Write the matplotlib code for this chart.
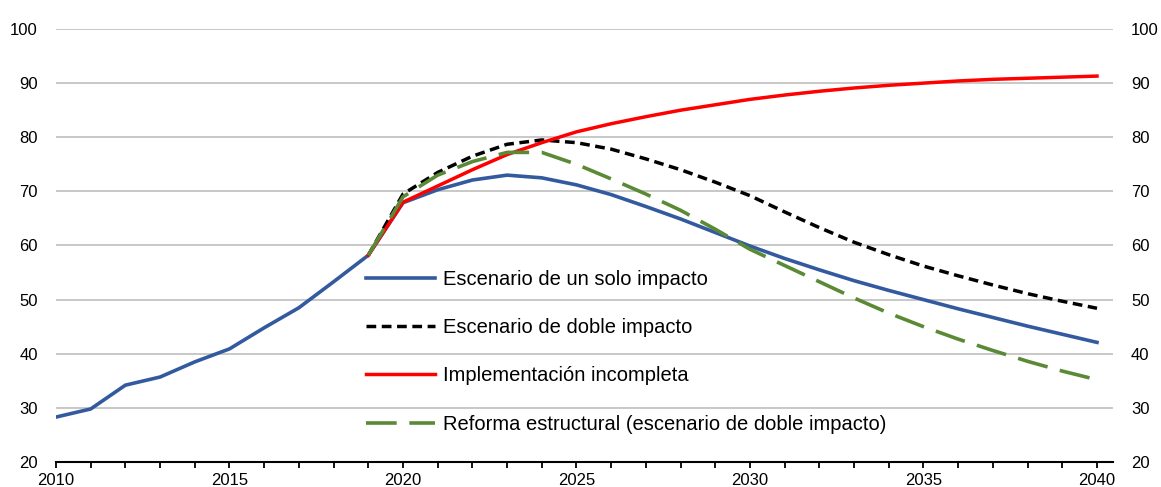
import numpy as np
import matplotlib
matplotlib.use('Agg')
import matplotlib.pyplot as plt
from matplotlib.ticker import MultipleLocator

plt.rcParams['font.family'] = ['Liberation Sans Narrow', 'Liberation Sans', 'DejaVu Sans']

# Data
years_hist = list(range(2010, 2041))
single_shock = [28.3, 29.8, 34.2, 35.7, 38.5, 40.9, 44.8, 48.5, 53.3, 58.2,
                67.9, 70.3, 72.1, 73.0, 72.5, 71.2, 69.4, 67.2, 64.9, 62.4,
                59.9, 57.6, 55.5, 53.5, 51.7, 50.0, 48.3, 46.7, 45.1, 43.6, 42.1]

years_proj = list(range(2019, 2041))
double_shock = [58.2, 69.5, 73.5, 76.5, 78.7, 79.5, 79.0, 77.8, 76.0, 74.0,
                71.7, 69.2, 66.2, 63.3, 60.6, 58.3, 56.2, 54.4, 52.7, 51.1,
                49.7, 48.4]
incomplete = [58.2, 68.0, 71.0, 74.0, 76.8, 79.0, 81.0, 82.5, 83.8, 85.0,
              86.0, 87.0, 87.8, 88.5, 89.1, 89.6, 90.0, 90.4, 90.7, 90.9,
              91.1, 91.3]
reform = [58.2, 69.0, 73.0, 75.5, 77.2, 77.2, 75.0, 72.3, 69.5, 66.5,
          63.0, 59.3, 56.3, 53.3, 50.3, 47.5, 45.0, 42.7, 40.6, 38.6,
          36.8, 35.2]

labels = ['Escenario de un solo impacto', 'Escenario de doble impacto',
          'Implementación incompleta', 'Reforma estructural (escenario de doble impacto)']

fig = plt.figure(figsize=(11.61, 4.87), dpi=100)
ax = fig.add_axes([56 / 1161, 1 - 462 / 487, (1113 - 56) / 1161, (462 - 29) / 487])

ax.plot(years_hist, single_shock, color='#335A9E', lw=2.6, label=labels[0], zorder=3)
ax.plot(years_proj, double_shock, color='black', lw=2.5, linestyle=(0, (2.8, 1.6)),
        label=labels[1], zorder=4)
ax.plot(years_proj, incomplete, color='#FF0000', lw=2.5, label=labels[2], zorder=5)
ax.plot(years_proj, reform, color='#5A8A35', lw=2.6, linestyle=(0, (8.5, 3.5)),
        label=labels[3], zorder=6)

ax.set_xlim(2010, 2010 + (1113 - 56) / 34.7)
ax.set_ylim(20, 100)
ax.xaxis.set_major_locator(MultipleLocator(5))
ax.xaxis.set_minor_locator(MultipleLocator(1))
ax.yaxis.set_major_locator(MultipleLocator(10))
ax.grid(axis='y', color='#C8C8C8', lw=1.4, zorder=0)
ax.set_axisbelow(True)

for s in ['left', 'right', 'top']:
    ax.spines[s].set_visible(False)
ax.spines['bottom'].set_color('black')
ax.spines['bottom'].set_linewidth(1.5)

ax.tick_params(axis='x', which='both', direction='out', length=4, width=1.3,
               labelsize=12, pad=4)
ax.tick_params(axis='y', which='both', length=0, labelsize=12, pad=13,
               labelleft=True, labelright=True)

ax.legend(loc='upper left', bbox_to_anchor=(358 / 1161, 1 - 262 / 487),
          bbox_transform=fig.transFigure, frameon=False, fontsize=14.5,
          handlelength=3.4, handletextpad=0.4, labelspacing=1.45,
          borderaxespad=0)

fig.savefig('out.png', dpi=100)
